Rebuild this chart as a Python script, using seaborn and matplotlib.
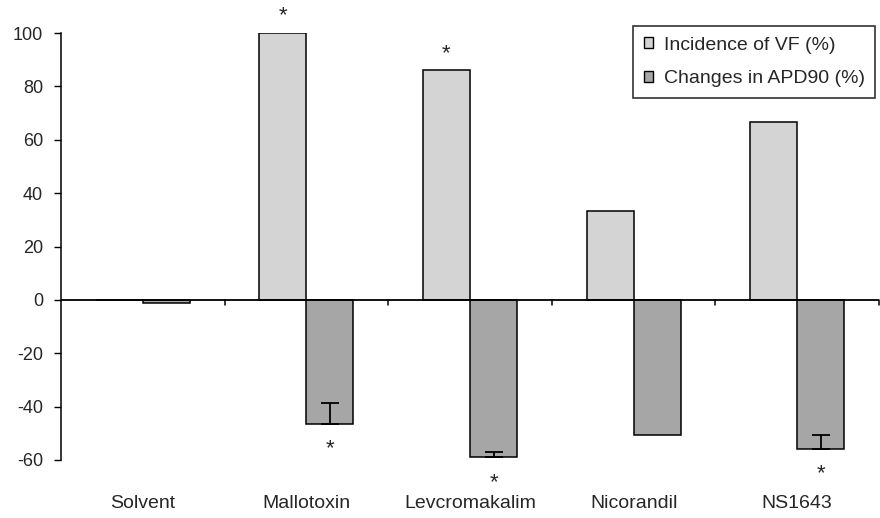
import matplotlib
matplotlib.use("Agg")
import matplotlib.pyplot as plt
import seaborn as sns
import pandas as pd

categories = ["Solvent", "Mallotoxin", "Levcromakalim", "Nicorandil", "NS1643"]
vf_incidence = [0, 100, 86, 33.3, 66.7]
apd_change = [-1.3, -46.5, -59, -50.5, -55.8]
apd_error = [0, 8, 2, 0, 5.3]
vf_signif = [False, True, True, False, False]
apd_signif = [False, True, True, False, True]
series = ["Incidence of VF (%)", "Changes in APD90 (%)"]
yticks = [-60, -40, -20, 0, 20, 40, 60, 80, 100]

df = pd.DataFrame({
    "cat": categories * 2,
    "series": [series[0]] * len(categories) + [series[1]] * len(categories),
    "value": vf_incidence + apd_change,
})

sns.set_style("white")
plt.rcParams["font.family"] = ["Liberation Sans", "DejaVu Sans"]

fig = plt.figure(figsize=(8.8, 5.18), dpi=100)
ax = fig.add_axes([61 / 880, 58 / 518, 818 / 880, 427 / 518])

sns.barplot(data=df, x="cat", y="value", hue="series", order=categories,
            hue_order=series, palette=["#d4d4d4", "#a6a6a6"], width=0.575,
            edgecolor="black", linewidth=1.1, errorbar=None, ax=ax,
            saturation=1)

ax.set_xlim(-0.5, 4.5)
ax.set_ylim(-60, 100)
ax.set_yticks(yticks)
ax.set_yticklabels([str(t) for t in yticks], fontsize=13)
ax.tick_params(axis="y", length=5, width=1, pad=8, left=True, color="black")
ax.tick_params(axis="x", length=0, pad=25, labelsize=14)
ax.set_xlabel("")
ax.set_ylabel("")
for s in ["top", "right", "bottom"]:
    ax.spines[s].set_visible(False)
ax.spines["left"].set_color("black")
ax.spines["left"].set_linewidth(1.1)

ax.axhline(0, color="black", lw=1.3, zorder=5)
for b in [0.5, 1.5, 2.5, 3.5, 4.5]:
    ax.plot([b, b], [0, -2], color="black", lw=1.1, clip_on=False, zorder=5)

vf_bars = ax.containers[0]
apd_bars = ax.containers[1]

for bar, err in zip(apd_bars, apd_error):
    if err > 0:
        xc = bar.get_x() + bar.get_width() / 2
        y = bar.get_y() + bar.get_height() if bar.get_height() < 0 else bar.get_y()
        ax.errorbar([xc], [y], yerr=[[0], [err]], fmt="none", ecolor="black",
                    elinewidth=1.3, capsize=6.5, capthick=1.3, zorder=6)

for bar, sig in zip(vf_bars, vf_signif):
    if sig:
        xc = bar.get_x() + bar.get_width() / 2
        ax.text(xc, bar.get_height() + 2.5, "*", ha="center", va="bottom",
                fontsize=16, clip_on=False)

for bar, sig in zip(apd_bars, apd_signif):
    if sig:
        xc = bar.get_x() + bar.get_width() / 2
        ax.text(xc, bar.get_height() - 5.5, "*", ha="center", va="top",
                fontsize=16, clip_on=False)

handles, labels = ax.get_legend_handles_labels()
if ax.get_legend() is not None:
    ax.get_legend().remove()
leg = fig.legend(handles, labels, loc="upper left",
                 bbox_to_anchor=(633 / 880, 1 - 26 / 518),
                 bbox_transform=fig.transFigure, borderaxespad=0,
                 fontsize=14, frameon=True, fancybox=False,
                 handlelength=0.47, handleheight=0.47, handletextpad=0.55,
                 labelspacing=0.85, borderpad=0.55)
leg.get_frame().set_edgecolor("black")
leg.get_frame().set_linewidth(1.2)
for h in leg.legend_handles:
    h.set_edgecolor("black")
    h.set_linewidth(1.0)

fig.savefig("out.png", dpi=100)
